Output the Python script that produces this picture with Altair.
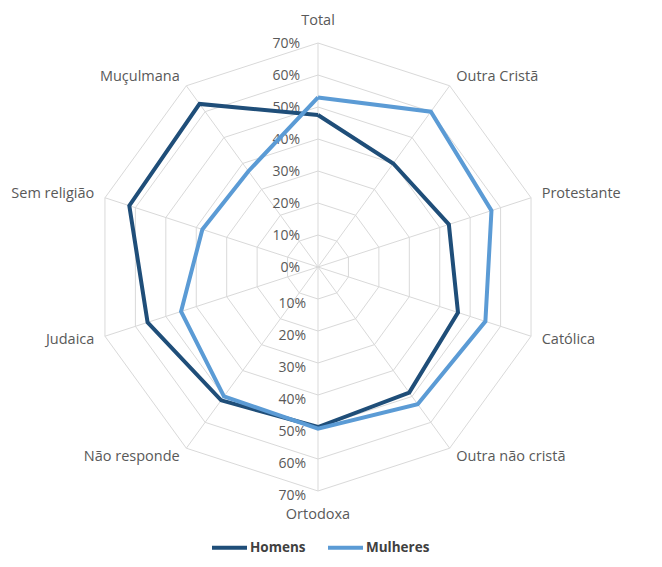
import altair as alt
import pandas as pd

# ---------------- data ----------------
categories = ["Total", "Outra Cristã", "Protestante", "Católica", "Outra não cristã",
              "Ortodoxa", "Não responde", "Judaica", "Sem religião", "Muçulmana"]
homens = [47.5, 40, 43, 46, 48.5, 50, 51.5, 56, 62, 63]
mulheres = [53, 60, 57, 55, 53, 50.5, 50, 45, 38, 37]
series_names = ["Homens", "Mulheres"]
series_colors = ["#1F4E79", "#5B9BD5"]
grid_levels = [10, 20, 30, 40, 50, 60, 70]
tick_levels_up = [0, 10, 20, 30, 40, 50, 60, 70]
tick_labels_up = ["0%", "10%", "20%", "30%", "40%", "50%", "60%", "70%"]
tick_levels_down = [10, 20, 30, 40, 50, 60, 70]
tick_labels_down = ["10%", "20%", "30%", "40%", "50%", "60%", "70%"]

N = len(categories)
RMAX = 70

# ---------------- tables ----------------
rows = []
for s, vals in zip(series_names, [homens, mulheres]):
    for i in range(N + 1):
        rows.append({"series": s, "idx": i, "cat": categories[i % N], "v": vals[i % N]})
series_df = pd.DataFrame(rows)

ring_df = pd.DataFrame([{"level": L, "idx": i} for L in grid_levels for i in range(N + 1)])
spoke_df = pd.DataFrame([{"idx": i} for i in range(N)])
cat_df = pd.DataFrame([{"idx": i, "cat": c} for i, c in enumerate(categories)])
tick_up_df = pd.DataFrame({"level": tick_levels_up, "label": tick_labels_up})
tick_down_df = pd.DataFrame({"level": tick_levels_down, "label": tick_labels_down})

# ---------------- layout ----------------
W, H = 646, 551
PX = 3.2  # pixels per percent
CX, CY = 310, 259
xdom = [-CX / PX, (W - CX) / PX]
ydom = [-(H - CY) / PX, CY / PX]

FONT = "Open Sans"
TXT = "#595959"
GRID = "#d9d9d9"

xs = alt.Scale(domain=xdom, nice=False, zero=False)
ys = alt.Scale(domain=ydom, nice=False, zero=False)

TH = "datum.idx * 2 * PI / %d" % N


def XY(**kw):
    return dict(x=alt.X("x:Q", scale=xs, axis=None), y=alt.Y("y:Q", scale=ys, axis=None), **kw)


rings = alt.Chart(ring_df).transform_calculate(
    x="datum.level * sin(%s)" % TH, y="datum.level * cos(%s)" % TH
).mark_line(color=GRID, strokeWidth=1).encode(
    **XY(detail="level:N", order="idx:Q")
)

spokes = alt.Chart(spoke_df).transform_calculate(
    x0="0", y0="0",
    x="%d * sin(%s)" % (RMAX, TH), y="%d * cos(%s)" % (RMAX, TH)
).mark_rule(color=GRID, strokeWidth=1).encode(
    x=alt.X("x0:Q", scale=xs, axis=None), y=alt.Y("y0:Q", scale=ys, axis=None),
    x2="x:Q", y2="y:Q"
)

ticks_up = alt.Chart(tick_up_df).transform_calculate(
    x="0", y="datum.level"
).mark_text(align="right", baseline="middle", dx=-18, dy=1, font=FONT, fontSize=14, color=TXT).encode(
    **XY(text="label:N")
)
ticks_down = alt.Chart(tick_down_df).transform_calculate(
    x="0", y="-datum.level"
).mark_text(align="right", baseline="middle", dx=-12, dy=5, font=FONT, fontSize=14, color=TXT).encode(
    **XY(text="label:N")
)

LR = 73.5
CFS = 14.5
cat_base = alt.Chart(cat_df).transform_calculate(
    s="sin(%s)" % TH, c="cos(%s)" % TH,
).transform_calculate(
    x="%f * datum.s" % LR, y="%f * datum.c" % LR
)
cat_right = cat_base.transform_filter("datum.s > 0.01").mark_text(
    align="left", baseline="middle", font=FONT, fontSize=CFS, color=TXT).encode(**XY(text="cat:N"))
cat_left = cat_base.transform_filter("datum.s < -0.01").mark_text(
    align="right", baseline="middle", font=FONT, fontSize=CFS, color=TXT).encode(**XY(text="cat:N"))
cat_top = cat_base.transform_filter("abs(datum.s) <= 0.01 && datum.c > 0").mark_text(
    align="center", baseline="middle", dy=-11, font=FONT, fontSize=CFS, color=TXT).encode(**XY(text="cat:N"))
cat_bot = cat_base.transform_filter("abs(datum.s) <= 0.01 && datum.c < 0").mark_text(
    align="center", baseline="middle", dy=13, font=FONT, fontSize=CFS, color=TXT).encode(**XY(text="cat:N"))

color = alt.Color(
    "series:N",
    scale=alt.Scale(domain=series_names, range=series_colors),
    legend=alt.Legend(
        title=None, orient="none", legendX=202, legendY=520, direction="horizontal",
        symbolType="stroke", symbolStrokeWidth=4, symbolSize=1225,
        labelFont=FONT, labelFontSize=13.5, labelFontWeight="bold", labelColor="#404040",
        labelOffset=1, columnPadding=14,
    ),
)


def series_layer(name):
    return alt.Chart(series_df).transform_filter(
        alt.datum.series == name
    ).transform_calculate(
        x="datum.v * sin(%s)" % TH, y="datum.v * cos(%s)" % TH
    ).mark_line(strokeWidth=4, strokeJoin="miter").encode(
        **XY(color=color, order="idx:Q")
    )


chart = alt.layer(
    rings, spokes, ticks_up, ticks_down,
    cat_right, cat_left, cat_top, cat_bot,
    series_layer("Homens"), series_layer("Mulheres"),
).properties(
    width=W, height=H, padding=0,
    autosize=alt.AutoSizeParams(type="none"),
).configure_view(stroke=None)

chart.save("out.html", embed_options={"renderer": "svg", "actions": False})
